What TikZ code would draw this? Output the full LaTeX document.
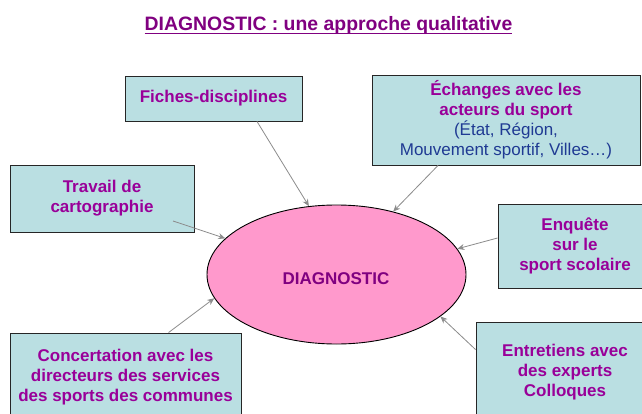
\documentclass[tikz,border=0pt]{standalone}
\usepackage{fontspec}
\setmainfont{Liberation Sans}
\usetikzlibrary{shapes.geometric,arrows.meta}
\definecolor{boxfill}{HTML}{BADFE2}
\definecolor{boxtext}{HTML}{990099}
\definecolor{titlecol}{HTML}{800080}
\definecolor{bluetext}{HTML}{1F3A93}
\definecolor{ellfill}{HTML}{FF99CC}
\definecolor{arrowgray}{HTML}{8C8C8C}
\newcommand{\subline}[1]{\textcolor{bluetext}{\mdseries #1}}
\begin{document}
\begin{tikzpicture}[x=1pt,y=-1pt,
  infobox/.style={rectangle, draw=black!85, line width=0.9pt, fill=boxfill, text=boxtext,
    font=\fontsize{17}{20}\selectfont\bfseries, align=center, inner sep=0pt},
  feed/.style={draw=arrowgray, line width=0.8pt, -{Stealth[length=7pt,width=6pt]}},
]
\clip (0,0) rectangle (642,414);
\fill[white] (0,0) rectangle (642,414);

% title
\node[anchor=base, text=titlecol, font=\fontsize{19.4}{22}\selectfont\bfseries, inner sep=0pt]
  (title) at (328.5,31) {DIAGNOSTIC : une approche qualitative};
\draw[titlecol, line width=1.4pt] ([yshift=-2.4pt]title.base west) -- ([yshift=-2.4pt]title.base east);

% central ellipse
\node[ellipse, draw=black, line width=0.9pt, fill=ellfill, minimum width=259pt, minimum height=139pt, inner sep=0pt]
  (diag) at (336.5,274.5) {};
\node[anchor=base, text=titlecol, font=\fontsize{17}{20}\selectfont\bfseries, inner sep=0pt]
  (diagtxt) at (336,284) {DIAGNOSTIC};

% boxes
\node[infobox, minimum width=177pt, minimum height=45pt] (fiches) at (213.5,98.5) {Fiches-disciplines};
\node[infobox, minimum width=268pt, minimum height=90pt] (echanges) at (506,120)
  {Échanges avec les\\acteurs du sport\\\subline{(État, Région,}\\\subline{Mouvement sportif, Villes…)}};
\node[infobox, minimum width=184pt, minimum height=67pt] (travail) at (102,198.5) {Travail de\\cartographie};
\node[infobox, minimum width=154pt, minimum height=84pt] (enquete) at (575,246) {Enquête\\sur le\\sport scolaire};
\node[infobox, minimum width=178pt, minimum height=101pt] (entretiens) at (565,372.5) {Entretiens avec\\des experts\\Colloques};
\node[infobox, minimum width=231pt, minimum height=89pt] (concert) at (125.5,377.5)
  {Concertation avec les\\directeurs des services\\des sports des communes};

% arrows
\draw[feed] ([xshift=43.5pt]fiches.south) -- (diag.112.4);
\draw[feed] ([xshift=-68pt]echanges.south) -- (diag.48.2);
\draw[feed] ([xshift=71pt,yshift=-22.5pt]travail.center) -- (diag.162);
\draw[feed] ([yshift=8pt]enquete.west) -- (diag.12);
\draw[feed] ([yshift=-28pt]entretiens.north west) -- (diag.-22);
\draw[feed] ([xshift=159pt]concert.north west) -- (diag.191.7);
\end{tikzpicture}
\end{document}
